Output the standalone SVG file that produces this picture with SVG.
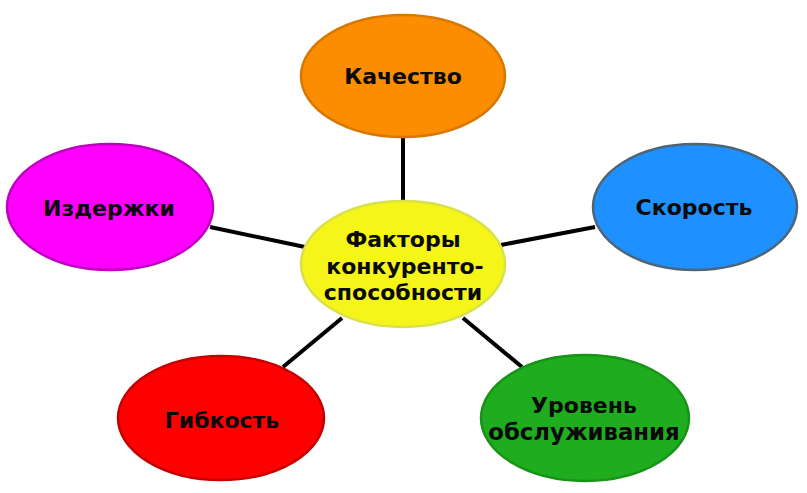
<svg xmlns="http://www.w3.org/2000/svg" width="807" height="493" viewBox="0 0 807 493">
<style>
.n{stroke-width:2.5}
.t{font-family:"DejaVu Sans",Verdana,sans-serif;font-weight:bold;font-size:22px;fill:#0a0a0a;text-anchor:middle}
.c{stroke:#000;stroke-width:4;fill:none}
</style>
<rect width="807" height="493" fill="#fff"/>
<g id="connectors">
<line class="c" x1="403" y1="137" x2="403" y2="202"/>
<line class="c" x1="210" y1="227" x2="305" y2="247"/>
<line class="c" x1="501" y1="245" x2="595" y2="227"/>
<line class="c" x1="283" y1="367" x2="342" y2="318"/>
<line class="c" x1="463" y1="318" x2="522" y2="367"/>
</g>
<g id="node-quality">
<ellipse class="n" cx="403" cy="76" rx="102" ry="61" fill="#fc8d00" stroke="#d87800"/>
<text class="t" x="403" y="84">Качество</text>
</g>
<g id="node-speed">
<ellipse class="n" cx="695" cy="207" rx="102" ry="63" fill="#1e90ff" stroke="#4d6575"/>
<text class="t" x="694" y="215">Скорость</text>
</g>
<g id="node-costs">
<ellipse class="n" cx="110" cy="207" rx="103" ry="63" fill="#ff00ff" stroke="#c000c0"/>
<text class="t" x="109" y="216">Издержки</text>
</g>
<g id="node-flexibility">
<ellipse class="n" cx="221" cy="418" rx="103" ry="62" fill="#ff0000" stroke="#c40000"/>
<text class="t" x="222" y="428">Гибкость</text>
</g>
<g id="node-service">
<ellipse class="n" cx="585" cy="418" rx="104" ry="63" fill="#1fad1f" stroke="#179317"/>
<text class="t" x="584" y="413">Уровень</text>
<text class="t" x="584" y="440" style="font-size:22.8px">обслуживания</text>
</g>
<g id="node-center">
<ellipse class="n" cx="403" cy="264" rx="102" ry="63" fill="#f5f51a" stroke="#d9e04a"/>
<text class="t" x="403" y="247">Факторы</text>
<text class="t" x="405" y="274">конкуренто-</text>
<text class="t" x="403" y="300">способности</text>
</g>
</svg>
